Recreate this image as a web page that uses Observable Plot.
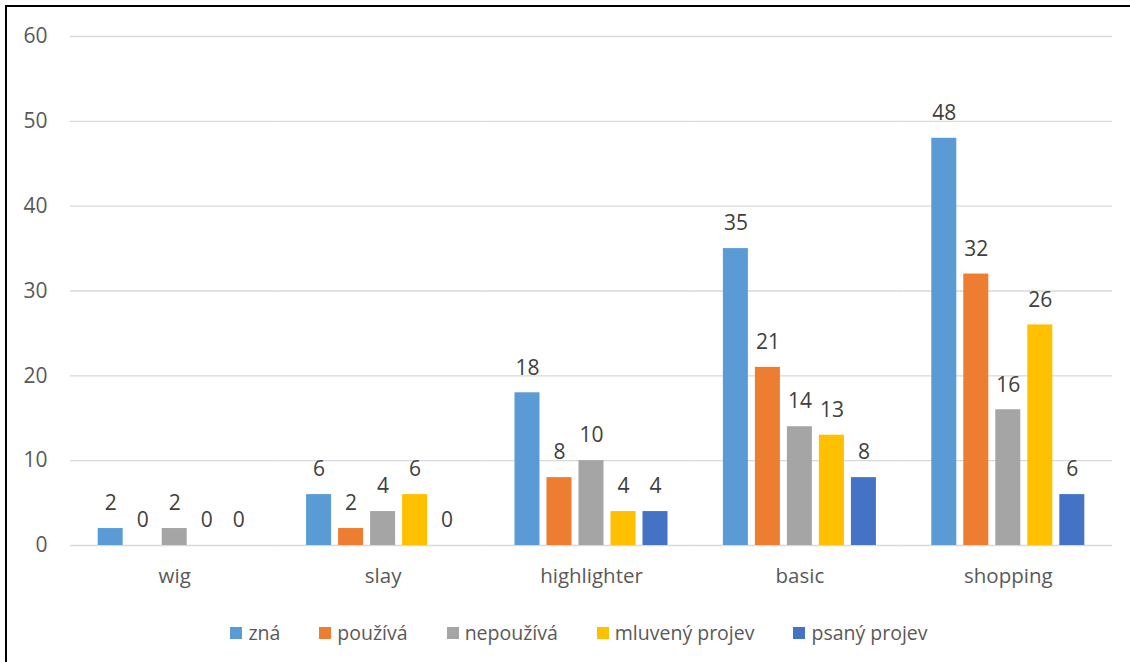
<!DOCTYPE html>
<html>
<head>
<meta charset="utf-8">
<script src="https://cdn.jsdelivr.net/npm/d3@7"></script>
<script src="https://cdn.jsdelivr.net/npm/@observablehq/plot@0.6"></script>
<style>
  html, body { margin: 0; padding: 0; background: #fff; overflow: hidden; }
  #page { position: relative; width: 1130px; height: 662px; overflow: hidden; font-family: "Open Sans", Lato, sans-serif; }
  #frame { position: absolute; left: 5px; top: 5px; width: 1200px; height: 700px; border-left: 2px solid #000; border-top: 2px solid #000; box-sizing: border-box; }
  #chart { position: absolute; left: 0; top: 0; }
  #legend { position: absolute; left: 0; top: 616px; width: 1158px; display: flex; justify-content: center; }
  #legend .lg-swatches, #legend div { font-family: "Open Sans", Lato, sans-serif; font-size: 19.5px; color: #595959; margin: 0; }
  #legend .lg-swatch { margin-right: 39px !important; }
  #legend .lg-swatch:last-child { margin-right: 0 !important; }
  #legend .lg-swatch > svg { margin-right: 6px !important; }
</style>
</head>
<body>
<div id="page">
  <div id="frame"></div>
  <div id="chart"></div>
  <div id="legend"></div>
</div>
<script>
const categories = ["wig", "slay", "highlighter", "basic", "shopping"];
const series = ["zná", "používá", "nepoužívá", "mluvený projev", "psaný projev"];
const colors = ["#5B9BD5", "#ED7D31", "#A5A5A5", "#FFC000", "#4472C4"];
const valuesZna = [2, 6, 18, 35, 48];
const valuesPouziva = [0, 2, 8, 21, 32];
const valuesNepouziva = [2, 4, 10, 14, 16];
const valuesMluveny = [0, 6, 4, 13, 26];
const valuesPsany = [0, 0, 4, 8, 6];
const yTicks = [0, 10, 20, 30, 40, 50, 60];

const seriesValues = [valuesZna, valuesPouziva, valuesNepouziva, valuesMluveny, valuesPsany];
const data = [];
categories.forEach((c, ci) => {
  series.forEach((s, si) => {
    data.push({category: c, series: s, value: seriesValues[si][ci]});
  });
});

const font = "'Open Sans', Lato, sans-serif";

const chart = Plot.plot({
  width: 1130,
  height: 600,
  marginLeft: 70,
  marginRight: 18,
  marginTop: 36,
  marginBottom: 55,
  style: {fontFamily: font, fontSize: "20px", color: "#595959", background: "transparent"},
  fx: {domain: categories, padding: 0, round: false, label: null},
  x: {domain: series, paddingInner: 0.21875, paddingOuter: 0.865, round: false, axis: null},
  y: {domain: [0, 60], ticks: yTicks, label: null},
  color: {domain: series, range: colors},
  marks: [
    Plot.gridY(yTicks, {stroke: "#d9d9d9", strokeOpacity: 1, strokeWidth: 1.3}),
    Plot.axisY(yTicks, {tickSize: 0, tickPadding: 23, fill: "#595959", fontSize: 21, label: null}),
    Plot.axisFx({anchor: "bottom", tickSize: 0, tickPadding: 23, fill: "#595959", fontSize: 20.5, label: null}),
    Plot.barY(data, {fx: "category", x: "series", y: "value", fill: "series"}),
    Plot.text(data, {fx: "category", x: "series", y: "value", text: d => String(d.value), dy: -25, fill: "#404040", fontSize: 21})
  ]
});
document.getElementById("chart").appendChild(chart);

const legend = Plot.legend({
  color: {domain: series, range: colors},
  legend: "swatches",
  swatchSize: 12,
  className: "lg"
});
document.getElementById("legend").appendChild(legend);
</script>
</body>
</html>
